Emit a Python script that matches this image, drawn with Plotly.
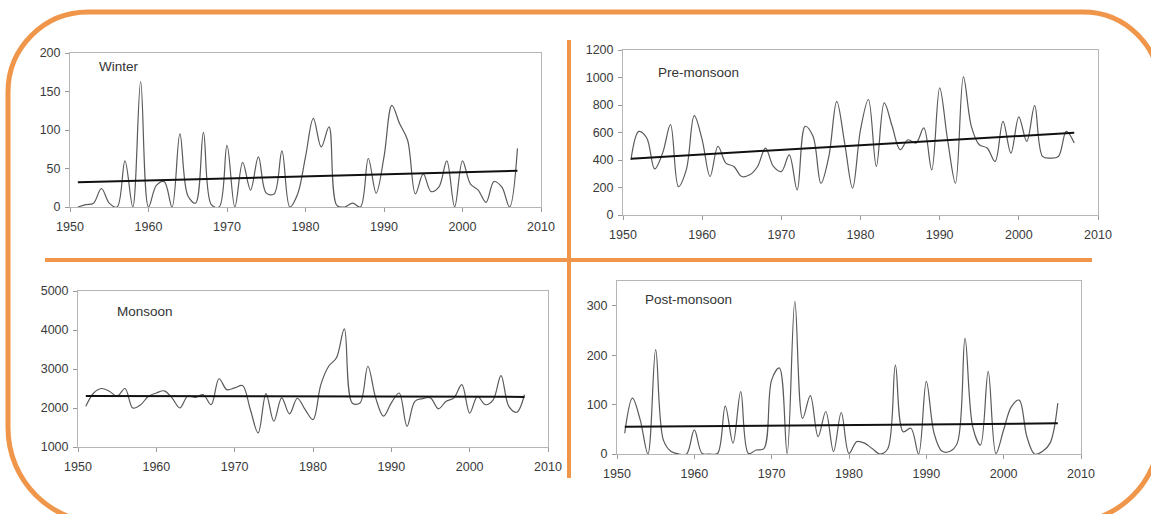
import plotly.graph_objects as go

W, H = 1151, 514

years = list(range(1951, 2008))

winter = [0, 3, 5, 24, 5, 0, 60, 0, 163, 0, 28, 33, 0, 95, 15, 5, 97, 3, 0, 80,
          0, 58, 22, 65, 18, 17, 73, 0, 17, 65, 115, 78, 104, 2, 0, 5, 0, 63, 18, 65,
          132, 108, 87, 17, 43, 20, 26, 60, 0, 60, 30, 22, 6, 33, 26, 0, 76]
premonsoon = [400, 608, 560, 335, 450, 657, 207, 330, 722, 547, 280, 500, 377, 353, 280, 292,
              353, 487, 353, 316, 438, 182, 645, 572, 231, 426, 827, 523, 195, 620,
              840, 353, 815, 645, 475, 547, 523, 633, 328, 925, 547, 231, 1005, 645, 511,
              487, 390, 681, 450, 713, 535, 795, 426, 414, 426, 608, 523]
monsoon = [2043, 2385, 2500, 2430, 2300, 2500, 2000, 2085, 2300, 2385, 2440, 2260, 2000, 2300,
           2270, 2340, 2085, 2750, 2470, 2515, 2575, 1960, 1360, 2370, 1660, 2260, 1850, 2250,
           1960, 1700, 2600, 3070, 3290, 4030, 2130, 2130, 3070, 2260, 1790, 2130, 2385, 1530,
           2170, 2240, 2260, 1980, 2170, 2260, 2600, 1870, 2300, 2085, 2210, 2830, 2040, 1890, 2340]
postmonsoon = [42, 113, 69, 0, 211, 28, 5, 0, 0, 49, 1, 0, 1, 97, 22, 126, 1, 8, 11, 150,
               174, 1, 309, 72, 118, 35, 86, 5, 84, 1, 25, 22, 11, 0, 10, 180, 45, 52, 0, 147,
               42, 6, 5, 22, 234, 55, 18, 167, 1, 49, 96, 109, 35, 0, 5, 22, 103]

trend_years = [1951, 2007]
winter_trend = [32, 47]
premonsoon_trend = [410, 598]
monsoon_trend = [2310, 2285]
postmonsoon_trend = [55, 62]

panel_names = ["Winter", "Pre-monsoon", "Monsoon", "Post-monsoon"]
series = [winter, premonsoon, monsoon, postmonsoon]
trends = [winter_trend, premonsoon_trend, monsoon_trend, postmonsoon_trend]
y_ranges = [[0, 200], [0, 1200], [1000, 5000], [0, 350]]
y_ticks = [[0, 50, 100, 150, 200],
           [0, 200, 400, 600, 800, 1000, 1200],
           [1000, 2000, 3000, 4000, 5000],
           [0, 100, 200, 300]]
x_ticks = [1950, 1960, 1970, 1980, 1990, 2000, 2010]

# plot boxes in pixels: left, right, top, bottom
boxes = [(70, 541, 53, 207), (623, 1098, 50, 215), (78, 548, 291, 447), (617, 1081, 281, 454)]
label_pos = [(97, 66), (656, 73), (115, 311), (643, 299)]


def px(x):
    return x / W


def py(y):
    return 1 - y / H


fig = go.Figure()
tickfont = dict(family="Liberation Sans, Arial, sans-serif", size=12.5, color="#3a3a3a")

for i in range(4):
    n = "" if i == 0 else str(i + 1)
    xa, ya = "x" + n, "y" + n
    fig.add_trace(go.Scatter(x=years, y=series[i], mode="lines",
                             line=dict(color="#5a5a5a", width=1.2, shape="spline", smoothing=1.0),
                             xaxis=xa, yaxis=ya, showlegend=False, name=panel_names[i]))
    fig.add_trace(go.Scatter(x=trend_years, y=trends[i], mode="lines",
                             line=dict(color="#111111", width=2),
                             xaxis=xa, yaxis=ya, showlegend=False, name=panel_names[i] + " trend"))
    l, r, t, b = boxes[i]
    fig.layout["xaxis" + n] = dict(
        domain=[px(l), px(r)], range=[1950, 2010], tickvals=x_ticks, anchor=ya,
        showgrid=False, zeroline=False, showline=True, linecolor="#b5b5b5", linewidth=1,
        mirror=True, ticks="outside", ticklen=4, tickcolor="#999", tickfont=tickfont,
        ticklabelstandoff=4, automargin=False)
    fig.layout["yaxis" + n] = dict(
        domain=[py(b), py(t)], range=y_ranges[i], tickvals=y_ticks[i], anchor=xa,
        showgrid=False, zeroline=False, showline=True, linecolor="#b5b5b5", linewidth=1,
        mirror=True, ticks="outside", ticklen=4, tickcolor="#999", tickfont=tickfont,
        ticklabelstandoff=2, automargin=False)
    lx, ly = label_pos[i]
    fig.add_annotation(x=px(lx), y=py(ly), xref="paper", yref="paper", text=panel_names[i],
                       showarrow=False, xanchor="left", yanchor="middle",
                       font=dict(family="Liberation Sans, Arial, sans-serif", size=13.5, color="#333"))

# orange rounded frame
orange = "#F0964A"
L, T, R, B = 8, 12, 1160, 523
rtl, rtr, rbr, rbl = 80, 77, 93, 95
k = 0.5523


def P(x, y):
    return f"{px(x):.5f},{py(y):.5f}"


path = (f"M {P(L + rtl, T)} L {P(R - rtr, T)} "
        f"C {P(R - rtr + k * rtr, T)} {P(R, T + rtr - k * rtr)} {P(R, T + rtr)} "
        f"L {P(R, B - rbr)} "
        f"C {P(R, B - rbr + k * rbr)} {P(R - rbr + k * rbr, B)} {P(R - rbr, B)} "
        f"L {P(L + rbl, B)} "
        f"C {P(L + rbl - k * rbl, B)} {P(L, B - rbl + k * rbl)} {P(L, B - rbl)} "
        f"L {P(L, T + rtl)} "
        f"C {P(L, T + rtl - k * rtl)} {P(L + rtl - k * rtl, T)} {P(L + rtl, T)} Z")
fig.add_shape(type="path", path=path, xref="paper", yref="paper",
              line=dict(color=orange, width=5), layer="above")
fig.add_shape(type="line", xref="paper", yref="paper", x0=px(569), x1=px(569), y0=py(40), y1=py(478),
              line=dict(color=orange, width=4))
fig.add_shape(type="line", xref="paper", yref="paper", x0=px(45), x1=px(1092), y0=py(260), y1=py(260),
              line=dict(color=orange, width=4))

fig.update_layout(width=W, height=H, margin=dict(l=0, r=0, t=0, b=0, pad=0, autoexpand=False),
                  paper_bgcolor="white", plot_bgcolor="white", showlegend=False)

fig.write_html("out.html", config={"displayModeBar": False},
               post_script="document.body.style.margin='0';document.body.style.overflow='hidden';")
